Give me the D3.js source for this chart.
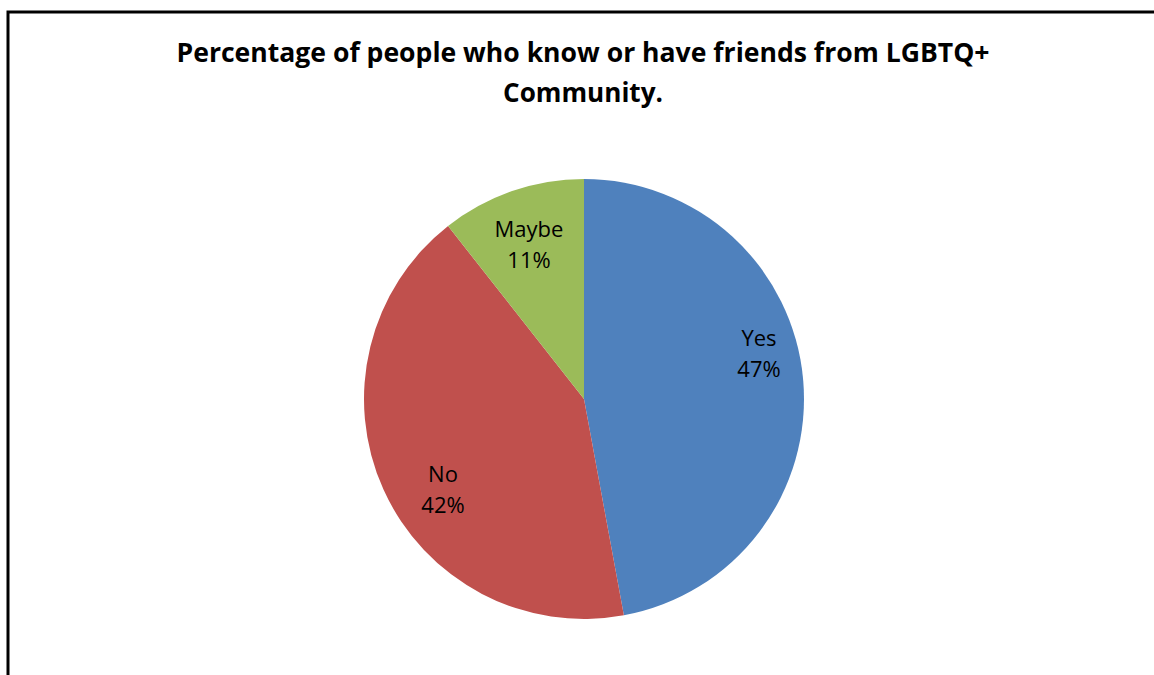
<!DOCTYPE html>
<html><head><meta charset="utf-8">
<script src="https://d3js.org/d3.v7.min.js"></script>
<style>body{margin:0;background:#fff}svg{display:block}</style>
</head><body>
<script>
const categories = ["Yes", "No", "Maybe"];
const values = [47.1, 42.3, 10.6];
const labels = ["47%", "42%", "11%"];
const colors = ["#4F81BD", "#C0504D", "#9BBB59"];
const titleLines = ["Percentage of people who know or have friends from LGBTQ+", "Community."];

const W = 1154, H = 675;
const svg = d3.select("body").append("svg").attr("width", W).attr("height", H);
svg.append("rect").attr("x", 8).attr("y", 12).attr("width", 1200).attr("height", 700)
  .attr("fill", "#fff").attr("stroke", "#000").attr("stroke-width", 3);

const font = "'Open Sans', 'Liberation Sans', sans-serif";
const titleW = [813, 160];
svg.append("g").selectAll("text").data(titleLines).join("text")
  .attr("x", 583).attr("y", (d, i) => 62 + i * 40)
  .attr("text-anchor", "middle").attr("font-family", font).attr("font-weight", "bold")
  .attr("font-size", 26).attr("fill", "#000").text(d => d)
  .attr("textLength", (d, i) => titleW[i])
  .attr("lengthAdjust", "spacingAndGlyphs");

const cx = 584, cy = 399, r = 220;
const pie = d3.pie().sort(null).value(d => d)(values);
const arc = d3.arc().innerRadius(0).outerRadius(r);
const g = svg.append("g").attr("transform", `translate(${cx},${cy})`);
g.selectAll("path").data(pie).join("path").attr("d", arc)
  .attr("fill", (d, i) => colors[i]);

const labelPos = [[175, -53], [-141, 83], [-55, -162]];
const lg = g.selectAll("g.lab").data(pie).join("g").attr("class", "lab")
  .attr("transform", (d, i) => `translate(${labelPos[i][0]},${labelPos[i][1]})`);
lg.append("text").attr("text-anchor", "middle").attr("font-family", font)
  .attr("font-size", 22).attr("y", 0).text((d, i) => categories[i]);
lg.append("text").attr("text-anchor", "middle").attr("font-family", font)
  .attr("font-size", 22).attr("y", 31).text((d, i) => labels[i]);
</script>
</body></html>
